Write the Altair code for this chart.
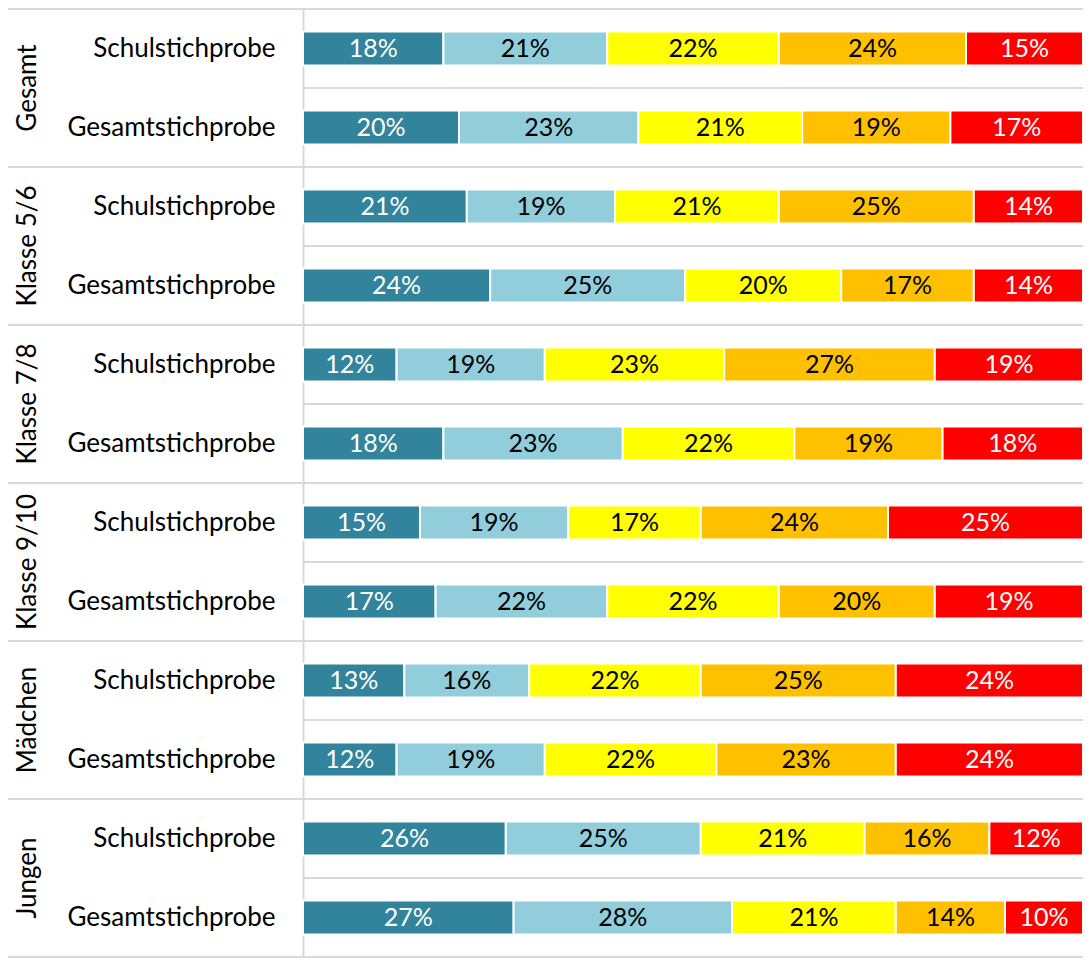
import altair as alt
import pandas as pd

groups = ["Gesamt", "Klasse 5/6", "Klasse 7/8", "Klasse 9/10", "Mädchen", "Jungen"]
samples = ["Schulstichprobe", "Gesamtstichprobe"]
categories = ["Kategorie 1", "Kategorie 2", "Kategorie 3", "Kategorie 4", "Kategorie 5"]
colors = ["#31849B", "#92CDDC", "#FFFF00", "#FFC000", "#FF0000"]
text_colors = ["white", "black", "black", "black", "white"]

# one value per row: Gesamt S, Gesamt G, 5/6 S, 5/6 G, 7/8 S, 7/8 G, 9/10 S, 9/10 G, Mädchen S, Mädchen G, Jungen S, Jungen G
cat1 = [18, 20, 21, 24, 12, 18, 15, 17, 13, 12, 26, 27]
cat2 = [21, 23, 19, 25, 19, 23, 19, 22, 16, 19, 25, 28]
cat3 = [22, 21, 21, 20, 23, 22, 17, 22, 22, 22, 21, 21]
cat4 = [24, 19, 25, 17, 27, 19, 24, 20, 25, 23, 16, 14]
cat5 = [15, 17, 14, 14, 19, 18, 25, 19, 24, 24, 12, 10]
series = [cat1, cat2, cat3, cat4, cat5]

records = []
row_order = []
for gi, g in enumerate(groups):
    for si, s in enumerate(samples):
        r = gi * 2 + si
        key = f"{g}|{s}"
        row_order.append(key)
        for ci, c in enumerate(categories):
            records.append(dict(row=key, cat=c, ci=ci, value=series[ci][r], tc=text_colors[ci]))
df = pd.DataFrame(records)

grp_df = pd.DataFrame({"group": groups, "gpos": [i + 0.5 for i in range(len(groups))]})
major_df = pd.DataFrame({"pos": list(range(len(groups) + 1))})
mid_df = pd.DataFrame({"pos": [i + 0.5 for i in range(len(groups))]})

W, H = 780, 948
FONT = "Lato"
GRID = "#d9d9d9"

xscale = alt.Scale(domain=[0, 100], nice=False, zero=True)

yaxis = alt.Axis(
    orient="left",
    title=None, labelExpr="split(datum.value, '|')[1]", ticks=False,
    domainColor=GRID, domainWidth=2, labelFontSize=26, labelFont=FONT,
    labelColor="black", labelPadding=28, labelLimit=400,
)
yenc = alt.Y("row:N", sort=row_order,
             scale=alt.Scale(paddingInner=0.57, paddingOuter=0.285),
             axis=yaxis)

base = alt.Chart(df).transform_stack(
    stack="value", as_=["x0", "x1"], groupby=["row"],
    sort=[alt.SortField("ci", order="ascending")],
).transform_calculate(
    mid="(datum.x0 + datum.x1) / 2", label="datum.value + '%'"
)

bars = base.mark_bar(stroke="white", strokeWidth=2).encode(
    x=alt.X("x0:Q", scale=xscale, axis=None),
    x2="x1:Q",
    y=yenc,
    color=alt.Color("cat:N", scale=alt.Scale(domain=categories, range=colors), legend=None),
)

labels = base.mark_text(fontSize=25, font=FONT, baseline="middle", align="center").encode(
    x=alt.X("mid:Q", scale=xscale, axis=None),
    y=yenc,
    text="label:N",
    color=alt.Color("tc:N", scale=None),
)

qy = alt.Scale(domain=[0, len(groups)], nice=False, zero=False, reverse=True)

major = alt.Chart(major_df).mark_rule(color=GRID, strokeWidth=2).encode(
    y=alt.Y("pos:Q", scale=qy, axis=None),
    x=alt.value(-295), x2=alt.value(W),
)
mid = alt.Chart(mid_df).mark_rule(color=GRID, strokeWidth=2).encode(
    y=alt.Y("pos:Q", scale=qy, axis=None),
    x=alt.value(0), x2=alt.value(W),
)
glabels = alt.Chart(grp_df).mark_text(
    fontSize=26, font=FONT, angle=270, align="center", baseline="middle", color="black"
).encode(
    y=alt.Y("gpos:Q", scale=qy, axis=None),
    x=alt.value(-275),
    text="group:N",
)

chart = alt.layer(
    alt.layer(major, mid, glabels),
    alt.layer(bars, labels),
).resolve_scale(y="independent").properties(
    width=W, height=H,
    padding={"left": 295, "top": 1, "right": 0, "bottom": 2},
    autosize=alt.AutoSizeParams(type="none"),
).configure_view(stroke=None)

chart.save("out.html", embed_options={"renderer": "svg", "actions": False})
